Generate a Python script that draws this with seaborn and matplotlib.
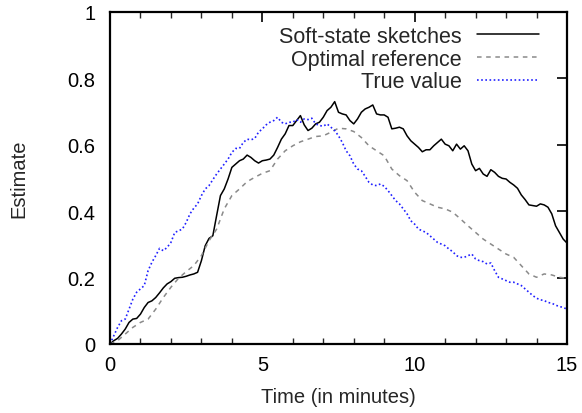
import numpy as np
import pandas as pd
import matplotlib
matplotlib.use("Agg")
import matplotlib.pyplot as plt
import seaborn as sns
from matplotlib.ticker import MultipleLocator

# Time in minutes: fine grid (every 0.125 min) and coarse grid (every 0.25 min)
time_fine = [i * 0.125 for i in range(121)]
time_coarse = [i * 0.25 for i in range(61)]

soft_state = [0.0, 0.01, 0.017, 0.03, 0.045, 0.065, 0.075, 0.077, 0.09, 0.11,
              0.125, 0.13, 0.14, 0.154, 0.169, 0.181, 0.188, 0.198, 0.2, 0.201,
              0.204, 0.208, 0.211, 0.216, 0.251, 0.296, 0.318, 0.326, 0.387, 0.447,
              0.467, 0.497, 0.532, 0.542, 0.552, 0.557, 0.569, 0.562, 0.552, 0.545,
              0.552, 0.554, 0.557, 0.569, 0.592, 0.617, 0.633, 0.658, 0.658, 0.673,
              0.688, 0.66, 0.643, 0.65, 0.663, 0.668, 0.683, 0.703, 0.713, 0.73,
              0.698, 0.693, 0.69, 0.673, 0.663, 0.678, 0.698, 0.708, 0.713, 0.72,
              0.693, 0.69, 0.69, 0.683, 0.648, 0.65, 0.653, 0.648, 0.627, 0.612,
              0.602, 0.592, 0.579, 0.585, 0.585, 0.597, 0.607, 0.617, 0.602, 0.597,
              0.582, 0.602, 0.587, 0.597, 0.582, 0.542, 0.522, 0.529, 0.512, 0.505,
              0.525, 0.517, 0.505, 0.499, 0.497, 0.487, 0.479, 0.469, 0.449, 0.435,
              0.419, 0.417, 0.415, 0.422, 0.419, 0.412, 0.392, 0.356, 0.336, 0.316,
              0.304]

true_value = [0.0, 0.025, 0.05, 0.07, 0.075, 0.105, 0.135, 0.156, 0.166, 0.176,
              0.221, 0.246, 0.266, 0.288, 0.281, 0.291, 0.306, 0.336, 0.341, 0.346,
              0.366, 0.392, 0.409, 0.422, 0.447, 0.467, 0.477, 0.495, 0.512, 0.527,
              0.542, 0.557, 0.577, 0.589, 0.589, 0.607, 0.617, 0.615, 0.619, 0.638,
              0.648, 0.66, 0.668, 0.673, 0.683, 0.668, 0.663, 0.668, 0.668, 0.676,
              0.668, 0.678, 0.676, 0.68, 0.663, 0.658, 0.656, 0.663, 0.653, 0.643,
              0.627, 0.607, 0.582, 0.567, 0.542, 0.527, 0.522, 0.505, 0.487, 0.479,
              0.477, 0.482, 0.475, 0.462, 0.447, 0.432, 0.422, 0.407, 0.392, 0.371,
              0.361, 0.346, 0.341, 0.336, 0.326, 0.316, 0.306, 0.301, 0.296, 0.286,
              0.278, 0.266, 0.261, 0.261, 0.266, 0.271, 0.256, 0.251, 0.248, 0.241,
              0.244, 0.221, 0.201, 0.196, 0.191, 0.186, 0.186, 0.181, 0.176, 0.166,
              0.156, 0.146, 0.138, 0.133, 0.131, 0.125, 0.123, 0.117, 0.113, 0.11,
              0.105]

optimal_ref = [0.0, 0.01, 0.03, 0.05, 0.065, 0.075, 0.105, 0.14, 0.171, 0.198,
               0.218, 0.236, 0.266, 0.311, 0.346, 0.407, 0.447, 0.467, 0.489, 0.502,
               0.514, 0.522, 0.557, 0.582, 0.597, 0.609, 0.617, 0.625, 0.627, 0.638,
               0.65, 0.648, 0.64, 0.622, 0.597, 0.582, 0.567, 0.527, 0.507, 0.492,
               0.457, 0.432, 0.422, 0.412, 0.407, 0.397, 0.377, 0.356, 0.336, 0.316,
               0.301, 0.286, 0.271, 0.261, 0.236, 0.211, 0.201, 0.211, 0.208, 0.201,
               0.198]

series_names = ["Soft-state sketches", "Optimal reference", "True value"]
y_ticks = [0, 0.2, 0.4, 0.6, 0.8, 1]
y_tick_labels = ["0", "0.2", "0.4", "0.6", "0.8", "1"]
x_ticks = [0, 5, 10, 15]

sns.set_theme(style="white")
plt.rcParams["font.family"] = ["Liberation Sans", "DejaVu Sans"]

W, H = 582, 414
fig = plt.figure(figsize=(W / 100, H / 100), dpi=100)
ax = fig.add_axes([110 / W, 1 - 345 / H, (567 - 110) / W, (345 - 13) / H])

series = [
    (series_names[0], time_fine, soft_state,
     dict(color="black", linestyle="-", linewidth=1.1)),
    (series_names[1], time_coarse, optimal_ref,
     dict(color="#8a8a8a", linestyle=(0, (3, 3)), linewidth=1.1)),
    (series_names[2], time_fine, true_value,
     dict(color="#2020ff", linestyle=(0, (1, 1.5)), linewidth=1.2)),
]
for name, ts, vals, st in series:
    df = pd.DataFrame({"t": ts, "v": vals})
    sns.lineplot(data=df, x="t", y="v", ax=ax, label=name, **st)

ax.set_xlim(0, 15)
ax.set_ylim(0, 1)
ax.set_xticks(x_ticks)
ax.set_xticklabels([str(t) for t in x_ticks])
ax.xaxis.set_minor_locator(MultipleLocator(1))
ax.set_yticks(y_ticks)
ax.set_yticklabels(y_tick_labels)
ax.tick_params(axis="both", which="major", direction="in", length=7, width=1.2,
               top=True, right=True, labelsize=14.5, colors="black")
ax.tick_params(axis="y", which="major", pad=10.5)
ax.tick_params(axis="x", which="major", pad=8)
ax.tick_params(axis="x", which="minor", direction="in", length=4, width=1.0,
               top=True, bottom=True)
for sp in ax.spines.values():
    sp.set_linewidth(1.6)
    sp.set_color("black")
ax.set_xlabel("")
ax.set_ylabel("")
fig.text(338 / W, 1 - 398 / H, "Time (in minutes)", fontsize=14.5,
         ha="center", va="center")
fig.text(19 / W, 1 - 179 / H, "Estimate", fontsize=14.5, rotation=90,
         ha="center", va="center")

leg = ax.legend(loc="upper right", frameon=False, markerfirst=False, fontsize=15.5,
                handlelength=2.9, handletextpad=0.7, labelspacing=0.08,
                borderaxespad=0, borderpad=0,
                bbox_to_anchor=(539 / W, 1 - 27 / H), bbox_transform=fig.transFigure)
for t in leg.get_texts():
    t.set_ha("right")

fig.savefig("out.png", dpi=100)
